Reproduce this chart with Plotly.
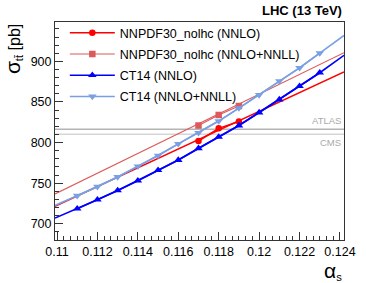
import plotly.graph_objects as go

# ---------------- data ----------------
alphas_nnpdf = [0.117, 0.118, 0.119]
nnpdf_nnlo = [802.0, 817.5, 826.0]
nnpdf_nnll = [821.0, 834.0, 845.0]

alphas_ct14 = [0.111, 0.112, 0.113, 0.114, 0.115, 0.116, 0.117,
               0.118, 0.119, 0.120, 0.121, 0.122, 0.123]
ct14_nnlo = [718.5, 729.6, 741.0, 753.0, 766.0, 778.5, 793.0,
             807.0, 821.0, 837.0, 853.0, 869.5, 886.0]
ct14_nnll = [734.5, 745.7, 757.7, 770.7, 784.0, 798.4, 812.0,
             826.5, 842.5, 858.7, 875.7, 892.0, 910.3]

# fitted curves read at the frame edges
fit_edges_x = [0.1099, 0.1242]
nnpdf_nnlo_fit = [721.5, 887.0]
nnpdf_nnll_fit = [736.7, 910.7]
ct14_nnlo_fit = [707.0, 907.5]
ct14_nnll_fit = [722.5, 932.0]

meas_names = ["ATLAS", "CMS"]
meas_values = [816.5, 810.2]

x_range = [0.1099, 0.1242]
y_range = [680, 948.5]

series_names = ["NNPDF30_nolhc (NNLO)", "NNPDF30_nolhc (NNLO+NNLL)",
                "CT14 (NNLO)", "CT14 (NNLO+NNLL)"]

# ---------------- style ----------------
C_RED = "#ff0000"
C_RED2 = "#dc5a5a"
C_BLUE = "#0000ff"
C_LBLUE = "#7aa0e4"
FONT = "Liberation Sans, Arial, sans-serif"

fig = go.Figure()

# measurement lines
meas_colors = ["#b4b4b4", "#d6d6d6"]
for nm, v, c in zip(meas_names, meas_values, meas_colors):
    fig.add_trace(go.Scatter(x=x_range, y=[v, v], mode="lines",
                             line=dict(color=c, width=1.5),
                             showlegend=False, hoverinfo="skip"))

specs = [
    (series_names[0], alphas_nnpdf, nnpdf_nnlo, fit_edges_x, nnpdf_nnlo_fit,
     C_RED, "circle", 6.5, 1.6),
    (series_names[1], alphas_nnpdf, nnpdf_nnll, fit_edges_x, nnpdf_nnll_fit,
     C_RED2, "square", 6.5, 1.1),
    (series_names[2], alphas_ct14, ct14_nnlo, None, ct14_nnlo_fit,
     C_BLUE, "triangle-up", 7.5, 1.6),
    (series_names[3], alphas_ct14, ct14_nnll, None, ct14_nnll_fit,
     C_LBLUE, "triangle-down", 7.5, 1.6),
]

for i, (nm, xs, ys, fx, fy, col, sym, ms, lw) in enumerate(specs):
    if fx is not None:
        lx, ly = fx, fy
    else:
        lx = [fit_edges_x[0]] + xs + [fit_edges_x[1]]
        ly = [fy[0]] + ys + [fy[1]]
    fig.add_trace(go.Scatter(x=lx, y=ly, mode="lines",
                             line=dict(color=col, width=lw),
                             legendgroup=f"g{i}", showlegend=False,
                             hoverinfo="skip"))
    fig.add_trace(go.Scatter(x=xs, y=ys, mode="lines+markers", name=nm,
                             line=dict(color=col, width=lw),
                             marker=dict(color=col, symbol=sym, size=ms),
                             legendgroup=f"g{i}", showlegend=True))

axis_common = dict(showgrid=False, zeroline=False, showline=True,
                   linecolor="#333333", linewidth=1, mirror=True,
                   ticks="inside", tickcolor="#333333",
                   ticklabeloverflow="allow",
                   tickfont=dict(family=FONT, size=12.5, color="black"))

fig.update_xaxes(range=x_range, tick0=0.11, dtick=0.002, ticklen=8,
                 tickformat="~g",
                 minor=dict(ticks="inside", ticklen=4, dtick=0.002 / 6,
                            tick0=0.11, tickcolor="#333333"),
                 **axis_common)
fig.update_yaxes(range=y_range, tick0=700, dtick=50, ticklen=8,
                 minor=dict(ticks="inside", ticklen=4, dtick=10,
                            tick0=700, tickcolor="#333333"),
                 **axis_common)

annotations = [
    dict(text="<b>LHC (13 TeV)</b>", xref="paper", yref="paper",
         x=1, y=1, xanchor="right", yanchor="bottom", yshift=2,
         showarrow=False, font=dict(family=FONT, size=13, color="black")),
    dict(text="<span style='font-size:21px'>σ</span><sub>tt̄</sub> [pb]",
         textangle=-90, xref="paper", yref="paper", x=-0.145, y=1,
         xanchor="center", yanchor="top", showarrow=False,
         font=dict(family=FONT, size=16, color="black")),
    dict(text="<span style='font-size:21px'>α</span><sub>s</sub>",
         xref="paper", yref="paper", x=1, y=-0.14, xanchor="right",
         yanchor="middle", showarrow=False,
         font=dict(family=FONT, size=16, color="black")),
]
for nm, v, shift, ya in zip(meas_names, meas_values, [1, -1], ["bottom", "top"]):
    annotations.append(dict(text=nm, xref="paper", yref="y", x=1, y=v,
                            xanchor="right", yanchor=ya, xshift=-1,
                            yshift=shift, showarrow=False,
                            font=dict(family=FONT, size=9.5, color="#aaaaaa")))

fig.update_layout(
    width=366, height=283,
    margin=dict(l=55, r=11, t=22, b=43, pad=0),
    paper_bgcolor="white", plot_bgcolor="white",
    font=dict(family=FONT, size=12.5, color="black"),
    showlegend=True,
    legend=dict(x=0.034, y=1.018, xanchor="left", yanchor="top",
                bgcolor="rgba(0,0,0,0)", borderwidth=0,
                itemwidth=45, tracegroupgap=2,
                font=dict(family=FONT, size=12.5, color="black")),
    annotations=annotations,
)

fig.write_html("out.html",
               config={"displayModeBar": False},
               post_script="document.body.style.margin='0';"
                           "document.body.style.padding='0';")
